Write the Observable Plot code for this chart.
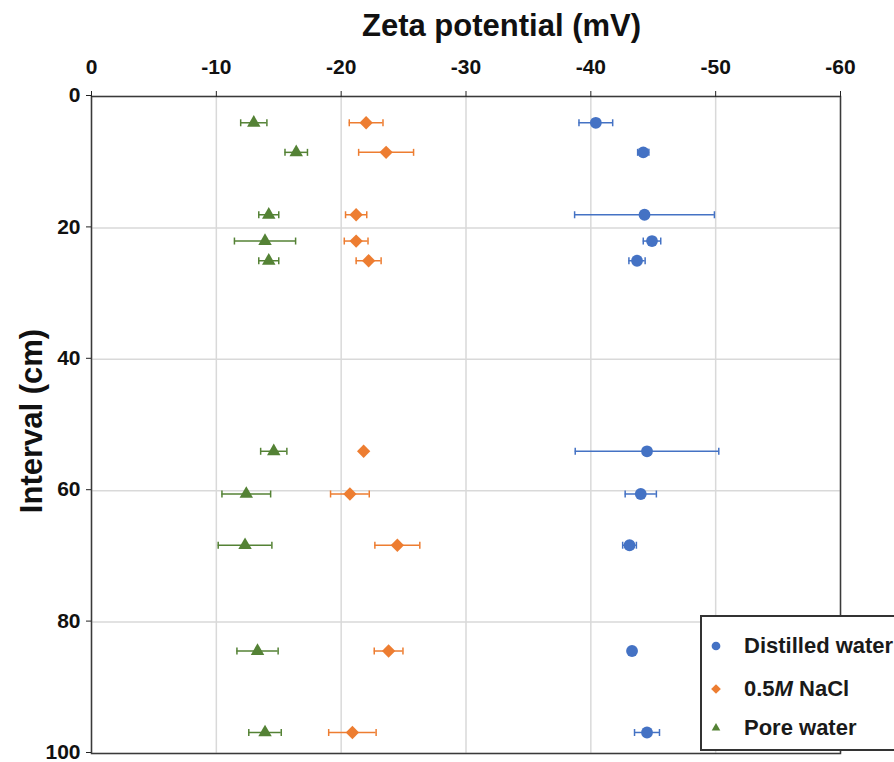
<!DOCTYPE html>
<html>
<head>
<meta charset="utf-8">
<script src="https://cdn.jsdelivr.net/npm/d3@7"></script>
<script src="https://cdn.jsdelivr.net/npm/@observablehq/plot@0.6"></script>
<style>
  html, body { margin: 0; padding: 0; background: #fff; }
  #wrap { position: relative; width: 894px; height: 762px; overflow: hidden; font-family: "Liberation Sans", Arial, sans-serif; }
  #legend { position: absolute; left: 700px; top: 615px; width: 210px; height: 136px; border: 2px solid #333; background: #fff; box-sizing: border-box; }
  .row { position: absolute; left: 0; height: 30px; display: flex; align-items: center; font-weight: bold; font-size: 22px; color: #1a1a1a; white-space: nowrap; }
  .row svg { margin-left: 6px; margin-right: 20px; }
</style>
</head>
<body>
<div id="wrap">
  <div id="chart"></div>
  <div id="legend"></div>
</div>
<script>
// ---- data ----
const intervals = [4, 8.5, 18, 22, 25, 54, 60.5, 68.3, 84.4, 96.8];
const distilled = [-40.4, -44.2, -44.3, -44.9, -43.7, -44.5, -44.0, -43.1, -43.3, -44.5];
const distilledErr = [1.35, 0.45, 5.6, 0.7, 0.65, 5.75, 1.25, 0.55, 0, 1.0];
const nacl = [-22.0, -23.6, -21.2, -21.2, -22.2, -21.8, -20.7, -24.5, -23.8, -20.9];
const naclErr = [1.35, 2.2, 0.85, 0.95, 1.0, 0, 1.55, 1.8, 1.15, 1.9];
const pore = [-13.0, -16.4, -14.2, -13.9, -14.2, -14.6, -12.4, -12.3, -13.3, -13.9];
const poreErr = [1.05, 0.9, 0.8, 2.45, 0.8, 1.05, 1.95, 2.15, 1.65, 1.3];
const xTicks = [0, -10, -20, -30, -40, -50, -60];
const yTicks = [0, 20, 40, 60, 80, 100];
const seriesNames = ["Distilled water", "0.5M NaCl", "Pore water"];
const titleText = "Zeta potential (mV)";
const yLabelText = "Interval (cm)";

const series = [
  {name: seriesNames[0], values: distilled, errs: distilledErr, color: "#4472C4", symbol: "circle", r: 5.9},
  {name: seriesNames[1], values: nacl, errs: naclErr, color: "#ED7D31", symbol: "diamond2", r: 6},
  {name: seriesNames[2], values: pore, errs: poreErr, color: "#548235", symbol: "triangle", r: 5}
];

const cap = {draw(ctx, size) { const h = Math.sqrt(size / Math.PI); ctx.moveTo(0, -h); ctx.lineTo(0, h); }};

const marks = [
  Plot.gridX(xTicks, {stroke: "#d9d9d9", strokeOpacity: 1, strokeWidth: 1.5}),
  Plot.gridY(yTicks, {stroke: "#d9d9d9", strokeOpacity: 1, strokeWidth: 1.5}),
  Plot.frame({stroke: "#3a3a3a", strokeWidth: 1.5}),
  Plot.axisX(xTicks, {anchor: "top", tickSize: 6, tickPadding: 17, fontSize: 21, fontWeight: "bold", tickFormat: d => String(d), label: null, stroke: "#222", fill: "#111"}),
  Plot.axisY(yTicks, {anchor: "left", tickSize: 5, tickPadding: 6, dy: -1, fontSize: 21, fontWeight: "bold", tickFormat: d => String(d), label: null, stroke: "#222", fill: "#111"}),
  Plot.text([titleText], {frameAnchor: "top", lineAnchor: "top", dx: 35.5, dy: -83, fontSize: 31, fontWeight: "bold", fill: "#111"}),
  Plot.text([yLabelText], {frameAnchor: "left", textAnchor: "middle", lineAnchor: "middle", dx: -59, dy: -4, rotate: -90, fontSize: 31, fontWeight: "bold", fill: "#111"})
];

for (const s of series) {
  const rows = intervals.map((y, i) => ({y, v: s.values[i], e: s.errs[i]}));
  marks.push(
    Plot.ruleY(rows, {y: "y", x1: d => d.v - d.e, x2: d => d.v + d.e, stroke: s.color, strokeWidth: 1.5}),
    Plot.dot(rows, {x: d => d.v - d.e, y: "y", symbol: cap, r: 3.5, fill: "none", stroke: s.color, strokeWidth: 1.5}),
    Plot.dot(rows, {x: d => d.v + d.e, y: "y", symbol: cap, r: 3.5, fill: "none", stroke: s.color, strokeWidth: 1.5}),
    Plot.dot(rows, {x: "v", y: "y", symbol: s.symbol, r: s.r, fill: s.color, stroke: "none"})
  );
}

const chart = Plot.plot({
  width: 894,
  height: 762,
  marginTop: 96,
  marginLeft: 91,
  marginRight: 54,
  marginBottom: 9,
  style: {fontFamily: "'Liberation Sans', Arial, sans-serif", background: "#fff", overflow: "visible"},
  x: {domain: [0, -60], axis: null},
  y: {domain: [0, 100], reverse: true, axis: null},
  marks
});
document.getElementById("chart").appendChild(chart);

// ---- legend ----
const legend = document.getElementById("legend");
const rowTops = [14, 57, 96];
series.forEach((s, i) => {
  const row = document.createElement("div");
  row.className = "row";
  row.style.top = rowTops[i] + "px";
  const sym = d3.symbol(s.symbol === "circle" ? d3.symbolCircle : s.symbol === "diamond2" ? d3.symbolDiamond2 : d3.symbolTriangle, s.symbol === "triangle" ? 32 : 60)();
  row.innerHTML = `<svg width="16" height="16" viewBox="-8 -8 16 16"><path d="${sym}" fill="${s.color}"></path></svg>`;
  const label = document.createElement("span");
  if (i === 1) {
    label.innerHTML = "0.5<i>M</i> NaCl";
  } else {
    label.textContent = s.name;
  }
  row.appendChild(label);
  legend.appendChild(row);
});
</script>
</body>
</html>
